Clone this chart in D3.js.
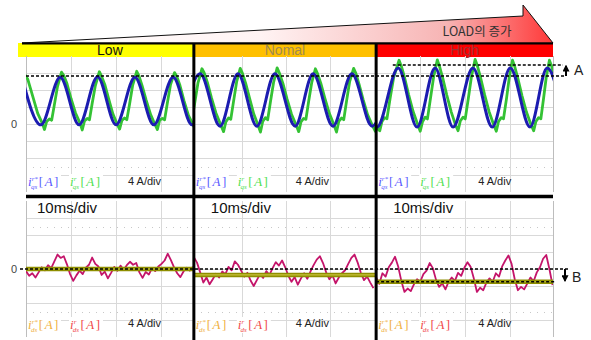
<!DOCTYPE html>
<html>
<head>
<meta charset="utf-8">
<script src="https://cdnjs.cloudflare.com/ajax/libs/d3/7.8.5/d3.min.js"></script>
<style>
  body { margin: 0; background: #fff; }
  svg { display: block; font-family: "Liberation Sans", Arial, sans-serif; }
</style>
</head>
<body>
<svg id="chart" width="591" height="340"></svg>
<script>
// ---- data (time in ms, current in A) ----
const loads = ['Low', 'Nomal', 'High']
const loadColors = ['#ffff00', '#ffc000', '#ff0000']
const loadTextColors = ['#111', '#a08a50', '#a03232']
const panelTimes = [[0, 37.3], [37.3, 77.8], [77.8, 117.1]]
const gridTimes = [[10, 20, 30], [48, 57.8, 67.6], [87.6, 97.6, 107.6]]
const ampTicks = [-12, -8, -4, 0, 4, 8, 12]
const topDotTicks = [-10]
const botDotTicks = [10, -10]

// i_qs reference (blue): peaks and troughs
const iqsRefLow = [[-0.9, 11.0], [3.3, -0.2], [7.6, 11.0], [11.8, -0.2], [15.9, 11.1], [20.0, -0.2], [24.2, 11.0], [28.4, -0.2], [32.7, 11.0], [36.9, -0.2], [41.0, 11.0]]
const iqsRefNormal = [[34.5, -0.5], [38.7, 11.8], [43.1, -0.5], [47.1, 11.8], [51.3, -0.5], [55.3, 11.8], [59.8, -0.5], [63.8, 11.8], [68.2, -0.5], [72.4, 11.8], [76.9, -0.5], [81.0, 11.8]]
const iqsRefHigh = [[73.8, 13.2], [78.0, -0.7], [82.7, 13.2], [86.9, -0.7], [90.9, 13.2], [94.9, -0.7], [99.3, 13.2], [103.6, -0.7], [107.6, 13.2], [112.0, -0.7], [115.8, 13.2], [119.8, -0.7]]

// i_qs measured (green)
const iqsLow = [[-0.5, 12.0], [0.4, 10.5], [1.5, 6.5], [2.6, 2.5], [3.6, 0.2], [4.1, -1.3], [4.6, 0.6], [5.2, 1.2], [5.7, 0.9], [6.3, 4.5], [7.0, 8.8], [7.9, 12.2], [8.4, 11.4], [9.1, 9.5], [10.0, 6.0], [11.0, 2.6], [12.0, 0.2], [12.5, -1.4], [13.0, 0.7], [13.6, 1.3], [14.1, 1.0], [14.7, 4.8], [15.4, 9.0], [16.3, 12.3], [16.8, 11.2], [17.5, 9.3], [18.4, 5.8], [19.3, 2.4], [20.2, 0.1], [20.8, -1.2], [21.3, 0.8], [21.9, 1.4], [22.4, 1.0], [23.0, 4.6], [23.7, 9.1], [24.6, 12.4], [25.1, 11.3], [25.8, 9.0], [26.7, 5.6], [27.7, 2.2], [28.6, 0.0], [29.2, -1.3], [29.7, 0.9], [30.3, 1.3], [30.8, 1.0], [31.4, 4.9], [32.1, 9.2], [33.0, 12.1], [33.5, 11.2], [34.2, 9.1], [35.1, 5.5], [36.1, 2.0], [37.0, 0.1], [37.6, -1.2]]
const iqsNormal = [[35.3, -1.6], [35.8, 0.6], [36.4, 1.3], [36.9, 1.1], [37.5, 5.0], [38.2, 9.6], [39.1, 13.0], [39.6, 12.0], [40.3, 9.8], [41.2, 6.2], [42.2, 2.6], [43.2, 0.0], [43.9, -1.8], [44.4, 0.5], [45.0, 1.4], [45.5, 1.1], [46.1, 5.2], [46.8, 9.9], [47.6, 13.1], [48.1, 11.9], [48.8, 9.6], [49.7, 6.0], [50.6, 2.4], [51.5, -0.1], [52.1, -1.9], [52.6, 0.6], [53.2, 1.5], [53.7, 1.0], [54.3, 5.1], [55.0, 9.7], [55.8, 13.2], [56.3, 12.0], [57.1, 9.5], [58.0, 5.9], [59.0, 2.3], [60.0, -0.2], [60.6, -1.8], [61.1, 0.5], [61.7, 1.3], [62.2, 1.1], [62.8, 5.3], [63.5, 9.8], [64.3, 13.0], [64.8, 11.8], [65.5, 9.6], [66.4, 6.1], [67.4, 2.5], [68.4, -0.1], [69.0, -1.9], [69.5, 0.6], [70.1, 1.4], [70.6, 1.0], [71.2, 5.2], [71.9, 9.9], [72.8, 13.1], [73.3, 11.9], [74.0, 9.4], [74.9, 5.8], [75.9, 2.2], [76.9, -0.2], [77.6, -1.7], [78.0, 0.3]]
const iqsHigh = [[77.0, 0.0], [78.6, -1.6], [79.1, 0.6], [79.7, 1.5], [80.2, 1.2], [80.9, 6.0], [81.7, 11.0], [82.9, 15.0], [83.4, 13.6], [84.1, 11.0], [85.0, 7.0], [86.0, 3.0], [87.0, 0.0], [87.6, -1.7], [88.1, 0.5], [88.7, 1.6], [89.2, 1.2], [89.9, 6.2], [90.6, 11.2], [91.4, 15.1], [91.9, 13.5], [92.6, 10.8], [93.5, 6.8], [94.5, 2.8], [95.4, -0.1], [96.0, -1.6], [96.5, 0.7], [97.1, 1.6], [97.6, 1.2], [98.3, 6.1], [99.0, 11.3], [99.8, 15.2], [100.3, 13.7], [101.0, 10.9], [101.9, 6.9], [102.9, 2.9], [103.9, -0.1], [104.5, -1.7], [105.0, 0.6], [105.6, 1.5], [106.1, 1.2], [106.8, 6.2], [107.4, 11.1], [108.1, 15.0], [108.6, 13.5], [109.3, 10.7], [110.2, 6.7], [111.2, 2.8], [112.2, -0.1], [112.8, -1.6], [113.3, 0.6], [113.9, 1.5], [114.4, 1.2], [115.0, 6.0], [115.6, 11.0], [116.3, 15.0], [116.8, 13.6], [117.3, 11.5]]

// i_ds measured (magenta), sampled every 0.7 ms from panel start
const sampleStep = 0.7
const idsLow = [-0.5, -1.6, -1.0, -2.0, -0.8, 0.4, -0.3, 0.9, 0.2, 1.8, 3.4, 2.6, 3.0, 1.1, -1.2, -2.8, -1.5, -0.4, -1.2, 0.3, 1.0, 2.7, 1.2, 0.6, -1.4, -0.6, -2.2, -0.9, 0.5, -0.4, 0.8, -0.2, 0.9, 1.7, 1.0, 1.4, -0.8, -2.1, -0.7, -1.3, 0.2, -0.5, 0.6, 1.2, 2.0, 3.6, 2.1, 0.4, -1.0, -1.9, -0.6, 0.3, -0.4, 0.5]
const idsNormal = [2.8, 1.5, -0.8, -3.2, -2.0, -3.6, -2.4, -1.1, -2.0, -0.6, -1.2, 0.5, -0.3, 1.8, 1.0, -0.4, -1.8, -0.9, -2.7, -4.0, -2.6, -1.2, -2.1, -0.5, -1.4, 0.2, 1.6, 0.8, 2.0, 0.4, -1.6, -3.0, -1.9, -3.7, -2.2, -1.0, -2.3, -0.6, 0.9, 2.2, 3.0, 1.4, -0.8, -2.4, -1.5, -3.4, -2.0, -1.0, -0.3, 1.2, 2.6, 3.4, 1.5, -0.9, -2.6, -1.8, -3.2, -4.5]
const idsHigh = [-2.0, -3.5, -1.0, -1.8, 0.4, 1.5, 2.9, 0.6, -2.8, -5.4, -4.6, -5.2, -3.6, -2.4, -3.0, -1.2, -0.4, 1.4, 0.2, -2.5, -4.2, -3.4, -4.8, -3.0, -2.0, -2.8, -0.9, -1.6, 0.3, 1.6, 0.5, -2.2, -5.4, -4.4, -5.0, -3.2, -2.2, -3.0, -1.0, -1.8, 0.6, 2.0, 3.2, 1.2, -2.4, -5.0, -4.2, -4.8, -3.4, -2.0, -2.9, -0.8, 0.4, 2.4, 3.3, 0.0, -3.8]

// i_ds reference (olive) level per panel
const idsRefLevel = [0, -1.4, -3.0]
// annotation levels
const peakLevels = [11.3, 13.9]
const offsetLevels = [0, -3.0]

// ---- scales ----
const svg = d3.select('#chart')
const x = d3.scaleLinear().domain([0, 117.1]).range([26, 553])
const yTop = d3.scaleLinear().domain([-16, 16]).range([192, 56])
const yBot = d3.scaleLinear().domain([-16, 16]).range([337, 201])

const defs = svg.append('defs')
const grad = defs.append('linearGradient').attr('id', 'loadGrad')
  .attr('x1', 0).attr('x2', 1).attr('y1', 0).attr('y2', 0)
grad.selectAll('stop')
  .data([[0, '#ffffff'], [0.45, '#fff3f3'], [0.8, '#f7b4b4'], [1, '#ff3838']])
  .join('stop')
  .attr('offset', d => d[0]).attr('stop-color', d => d[1])

defs.append('marker')
  .attr('id', 'arrow')
  .attr('viewBox', '0 -5 10 10')
  .attr('refX', 8).attr('refY', 0)
  .attr('markerWidth', 3.5).attr('markerHeight', 3.5)
  .attr('orient', 'auto')
  .append('path').attr('d', 'M0,-5L10,0L0,5Z').attr('fill', '#000')

panelTimes.forEach((p, i) => {
  defs.append('clipPath').attr('id', 'clipTop' + i)
    .append('rect').attr('x', x(p[0])).attr('y', 57).attr('width', x(p[1]) - x(p[0])).attr('height', 136)
  defs.append('clipPath').attr('id', 'clipBot' + i)
    .append('rect').attr('x', x(p[0])).attr('y', 199).attr('width', x(p[1]) - x(p[0])).attr('height', 139)
})

// ---- LOAD wedge ----
svg.append('path')
  .attr('d', `M22,43 L523,16 L523,5 L553,43 Z`)
  .attr('fill', 'url(#loadGrad)')
  .attr('stroke', '#111').attr('stroke-width', 1)
svg.append('text')
  .attr('x', 477).attr('y', 36)
  .attr('text-anchor', 'middle')
  .attr('font-family', '"Noto Sans CJK KR", sans-serif')
  .attr('font-size', 12.5).attr('fill', '#333')
  .text('LOAD의 증가')

// ---- load bands ----
const bands = svg.append('g')
bands.selectAll('rect')
  .data(panelTimes)
  .join('rect')
  .attr('x', (d, i) => i === 0 ? 18 : x(d[0]))
  .attr('y', 43)
  .attr('width', (d, i) => x(d[1]) - (i === 0 ? 18 : x(d[0])))
  .attr('height', 14)
  .attr('fill', (d, i) => loadColors[i])
bands.selectAll('text')
  .data(panelTimes)
  .join('text')
  .attr('x', d => (x(d[0]) + x(d[1])) / 2)
  .attr('y', 55)
  .attr('text-anchor', 'middle')
  .attr('font-size', 14)
  .attr('fill', (d, i) => loadTextColors[i])
  .text((d, i) => loads[i])
svg.append('line')
  .attr('x1', 22).attr('x2', 553).attr('y1', 43.5).attr('y2', 43.5)
  .attr('stroke', '#000').attr('stroke-width', 2)

// ---- grids ----
function drawGrid(y, dots) {
  const g = svg.append('g')
  g.selectAll('.h')
    .data(ampTicks)
    .join('line')
    .attr('x1', x(0)).attr('x2', x(117.1))
    .attr('y1', d => Math.round(y(d)) + 0.5).attr('y2', d => Math.round(y(d)) + 0.5)
    .attr('stroke', '#d9d9d9').attr('stroke-width', 1)
  g.selectAll('.d')
    .data(dots)
    .join('line')
    .attr('x1', x(0)).attr('x2', x(117.1))
    .attr('y1', d => Math.round(y(d)) + 0.5).attr('y2', d => Math.round(y(d)) + 0.5)
    .attr('stroke', '#c8c8c8').attr('stroke-width', 1).attr('stroke-dasharray', '1,6')
  g.selectAll('.v')
    .data(gridTimes.flat().concat([0, 117.1]))
    .join('line')
    .attr('x1', d => Math.round(x(d)) + 0.5).attr('x2', d => Math.round(x(d)) + 0.5)
    .attr('y1', y(16)).attr('y2', y(-16))
    .attr('stroke', (d) => (d === 0 || d === 117.1) ? '#bdbdbd' : '#d9d9d9').attr('stroke-width', 1)
}
drawGrid(yTop, topDotTicks)
drawGrid(yBot, botDotTicks)

// ---- panel labels ----
function legendText(g, px, py, sup, sub, color) {
  g.append('rect').attr('x', px - 1).attr('y', py - 12).attr('width', 34).attr('height', 16).attr('fill', '#fff')
  const t = g.append('text')
    .attr('x', px).attr('y', py)
    .attr('fill', color)
    .attr('font-family', '"Liberation Serif", "DejaVu Serif", serif')
    .attr('font-style', 'italic')
    .attr('font-size', 13)
  t.append('tspan').text('i')
  t.append('tspan').attr('font-size', 7).attr('dy', -5).text(sup)
  t.append('tspan').attr('font-size', 7).attr('dx', -sup.length * 3.4).attr('dy', 8).text(sub)
  t.append('tspan').attr('dy', -3).attr('dx', 1.5).attr('font-style', 'normal').text('[')
  t.append('tspan').attr('dx', 1.5).text('A')
  t.append('tspan').attr('dx', 1.5).attr('font-style', 'normal').text(']')
}

const labels = svg.append('g')
panelTimes.forEach((p, i) => {
  const x0 = x(p[0])
  legendText(labels, x0 + 2, 186, 'r*', 'qs', '#5a5aff')
  legendText(labels, x0 + 44, 186, 'r', 'qs', '#4ee04e')
  legendText(labels, x0 + 2, 329, 'r*', 'ds', '#f0b040')
  legendText(labels, x0 + 44, 329, 'r', 'ds', '#f04848')
  labels.append('text').attr('x', x0 + 102).attr('y', 185).attr('font-size', 11).attr('fill', '#222').text('4 A/div')
  labels.append('text').attr('x', x0 + 102).attr('y', 327).attr('font-size', 11).attr('fill', '#222').text('4 A/div')
  labels.append('text').attr('x', x0 + (i === 0 ? 11 : 17)).attr('y', 213).attr('font-size', 15).attr('fill', '#111').text('10ms/div')
})

// ---- traces ----
const smooth = d3.line().x(d => x(d[0])).curve(d3.curveMonotoneX)
const rough = d3.line().x(d => x(d[0]))

const qsRef = [iqsRefLow, iqsRefNormal, iqsRefHigh]
const qsMeas = [iqsLow, iqsNormal, iqsHigh]
const dsMeas = [idsLow, idsNormal, idsHigh]

panelTimes.forEach((p, i) => {
  const gt = svg.append('g').attr('clip-path', `url(#clipTop${i})`)
  gt.append('path')
    .attr('d', rough.y(d => yTop(d[1]))(qsMeas[i]))
    .attr('fill', 'none').attr('stroke', '#34c234').attr('stroke-width', 2.8)
    .attr('stroke-linejoin', 'round')
  gt.append('path')
    .attr('d', smooth.y(d => yTop(d[1]))(qsRef[i]))
    .attr('fill', 'none').attr('stroke', '#1c1cb0').attr('stroke-width', 3)

  const gb = svg.append('g').attr('clip-path', `url(#clipBot${i})`)
  const pts = dsMeas[i].map((v, k) => [p[0] + k * sampleStep, v])
  gb.append('path')
    .attr('d', rough.y(d => yBot(d[1]))(pts))
    .attr('fill', 'none').attr('stroke', '#c4146a').attr('stroke-width', 1.8)
    .attr('stroke-linejoin', 'round')
  const lvl = [[p[0], idsRefLevel[i]], [p[1], idsRefLevel[i]]]
  gb.append('path')
    .attr('d', rough.y(d => yBot(d[1]))(lvl))
    .attr('stroke', '#8e8e00').attr('stroke-width', 4.5)
  gb.append('path')
    .attr('d', rough.y(d => yBot(d[1]))(lvl))
    .attr('stroke', '#c8c23a').attr('stroke-width', 1.2)
})

// ---- annotations ----
const ann = svg.append('g').attr('stroke', '#000').attr('stroke-width', 1.6).attr('stroke-dasharray', '3,2').attr('fill', 'none')
ann.append('line').attr('x1', x(0)).attr('x2', 565).attr('y1', yTop(peakLevels[0])).attr('y2', yTop(peakLevels[0]))
ann.append('line').attr('x1', x(81.5)).attr('x2', 563).attr('y1', yTop(peakLevels[1])).attr('y2', yTop(peakLevels[1]))
ann.append('line').attr('x1', 20).attr('x2', 568).attr('y1', yBot(offsetLevels[0])).attr('y2', yBot(offsetLevels[0]))
ann.append('line').attr('x1', x(77.8)).attr('x2', 556).attr('y1', yBot(offsetLevels[1])).attr('y2', yBot(offsetLevels[1]))

svg.append('line')
  .attr('x1', 566).attr('x2', 566)
  .attr('y1', yTop(peakLevels[0])).attr('y2', yTop(peakLevels[1]) + 1)
  .attr('stroke', '#000').attr('stroke-width', 2).attr('marker-end', 'url(#arrow)')
svg.append('line')
  .attr('x1', 565).attr('x2', 565)
  .attr('y1', yBot(offsetLevels[0])).attr('y2', yBot(offsetLevels[1]) - 1)
  .attr('stroke', '#000').attr('stroke-width', 2).attr('marker-end', 'url(#arrow)')
svg.append('text').attr('x', 574).attr('y', 75).attr('font-size', 14).attr('fill', '#222').text('A')
svg.append('text').attr('x', 572).attr('y', 282).attr('font-size', 14).attr('fill', '#222').text('B')

// ---- separators ----
const sep = svg.append('g').attr('stroke', '#000')
sep.append('line').attr('x1', x(0)).attr('x2', x(117.1)).attr('y1', 196.5).attr('y2', 196.5).attr('stroke-width', 3.5)
sep.selectAll('.v')
  .data(panelTimes.slice(1))
  .join('line')
  .attr('x1', d => x(d[0])).attr('x2', d => x(d[0]))
  .attr('y1', 43).attr('y2', 340)
  .attr('stroke-width', 3)

// ---- zero labels ----
svg.append('text').attr('x', 14).attr('y', yTop(0) + 4).attr('text-anchor', 'middle').attr('font-size', 11).attr('fill', '#444').text('0')
svg.append('text').attr('x', 14).attr('y', yBot(0) + 4).attr('text-anchor', 'middle').attr('font-size', 11).attr('fill', '#444').text('0')
</script>
</body>
</html>
